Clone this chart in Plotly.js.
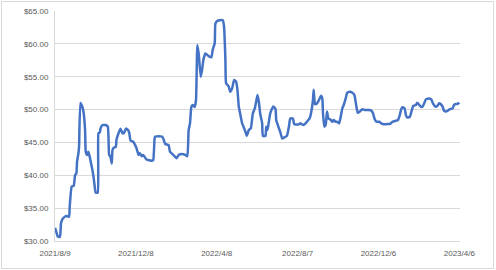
<!DOCTYPE html>
<html>
<head>
<meta charset="utf-8">
<script src="https://cdn.plot.ly/plotly-3.0.1.min.js"></script>
<style>
html,body{margin:0;padding:0;background:#fff;}
#chart{position:absolute;left:0;top:0;width:496px;height:270px;}
#frame{position:absolute;left:1px;top:1px;width:493px;height:268px;box-sizing:border-box;border:1px solid #d9d9d9;pointer-events:none;}
</style>
</head>
<body>
<div id="chart"></div>
<div id="frame"></div>
<script>
const dates = [
"2021-08-09","2021-08-11","2021-08-13","2021-08-16","2021-08-17","2021-08-18","2021-08-21","2021-08-26","2021-08-30","2021-08-31",
"2021-09-03","2021-09-06","2021-09-08","2021-09-10","2021-09-11","2021-09-13","2021-09-14","2021-09-16","2021-09-19","2021-09-21",
"2021-09-23","2021-09-24","2021-09-26","2021-09-28","2021-09-30","2021-10-02","2021-10-04","2021-10-06","2021-10-08","2021-10-09",
"2021-10-12","2021-10-13","2021-10-15","2021-10-16","2021-10-19","2021-10-24","2021-10-27","2021-10-28","2021-10-29","2021-10-31",
"2021-11-02","2021-11-03","2021-11-05","2021-11-08","2021-11-09","2021-11-12","2021-11-15","2021-11-18","2021-11-20","2021-11-23",
"2021-11-26","2021-11-28","2021-11-30","2021-12-04","2021-12-09","2021-12-12","2021-12-14","2021-12-17","2021-12-19","2021-12-24",
"2022-01-01","2022-01-03","2022-01-05","2022-01-06","2022-01-16","2022-01-18","2022-01-21","2022-01-26","2022-01-28","2022-02-02",
"2022-02-07","2022-02-10","2022-02-15","2022-02-20","2022-02-23","2022-02-25","2022-02-27","2022-03-01","2022-03-03","2022-03-06",
"2022-03-08","2022-03-10","2022-03-12","2022-03-15","2022-03-17","2022-03-19","2022-03-22","2022-03-25","2022-03-28","2022-03-31",
"2022-04-02","2022-04-05","2022-04-06","2022-04-09","2022-04-13","2022-04-17","2022-04-19","2022-04-21","2022-04-22","2022-04-26",
"2022-04-28","2022-05-01","2022-05-04","2022-05-07","2022-05-09","2022-05-11","2022-05-13","2022-05-16","2022-05-18","2022-05-21",
"2022-05-23","2022-05-26","2022-05-29","2022-06-01","2022-06-04","2022-06-06","2022-06-08","2022-06-10","2022-06-12","2022-06-15",
"2022-06-16","2022-06-20","2022-06-21","2022-06-23","2022-06-25","2022-06-27","2022-06-30","2022-07-02","2022-07-05","2022-07-06",
"2022-07-10","2022-07-12","2022-07-15","2022-07-18","2022-07-22","2022-07-25","2022-07-27","2022-07-31","2022-08-02","2022-08-09",
"2022-08-11","2022-08-16","2022-08-21","2022-08-25","2022-08-27","2022-08-30","2022-08-31","2022-09-02","2022-09-04","2022-09-08",
"2022-09-11","2022-09-13","2022-09-14","2022-09-16","2022-09-18","2022-09-20","2022-09-22","2022-09-25","2022-09-28","2022-09-30",
"2022-10-03","2022-10-05","2022-10-08","2022-10-10","2022-10-13","2022-10-15","2022-10-18","2022-10-20","2022-10-24","2022-10-28",
"2022-10-31","2022-11-03","2022-11-05","2022-11-08","2022-11-12","2022-11-15","2022-11-19","2022-11-22","2022-11-25","2022-11-28",
"2022-11-30","2022-12-03","2022-12-07","2022-12-10","2022-12-14","2022-12-19","2022-12-23","2022-12-27","2023-01-01","2023-01-04",
"2023-01-07","2023-01-09","2023-01-11","2023-01-14","2023-01-16","2023-01-18","2023-01-22","2023-01-25","2023-01-27","2023-01-31",
"2023-02-02","2023-02-05","2023-02-07","2023-02-10","2023-02-12","2023-02-15","2023-02-20","2023-02-23","2023-02-26","2023-03-01",
"2023-03-04","2023-03-07","2023-03-09","2023-03-12","2023-03-14","2023-03-17","2023-03-20","2023-03-23","2023-03-27","2023-03-29",
"2023-04-01","2023-04-03","2023-04-06"
];
const prices = [
32.0,31.4,30.7,30.6,31.0,32.7,33.45,33.8,33.7,35.2,
38.3,38.4,40.0,40.3,42.1,43.3,44.35,51.0,50.4,49.4,
46.9,43.6,43.1,43.6,42.8,41.8,40.8,39.5,37.8,37.35,
37.35,46.4,46.5,47.1,47.65,47.65,47.4,45.9,43.1,42.8,
41.8,43.85,44.2,44.35,45.4,46.4,47.1,46.4,46.4,47.1,
46.9,46.5,45.3,45.1,44.1,43.1,43.35,42.9,43.1,42.4,
42.2,42.3,45.6,45.9,45.9,45.6,44.75,44.6,43.6,43.1,
42.6,43.1,43.25,43.1,42.9,46.9,47.9,50.4,50.7,50.4,
51.45,59.8,58.5,55.0,56.0,57.55,58.55,58.3,58.05,57.95,
59.1,60.1,63.1,63.5,63.6,63.6,62.6,57.5,54.0,53.5,
52.7,53.2,54.5,54.25,53.0,50.45,49.4,47.9,47.4,46.6,
46.0,46.9,47.15,49.4,50.2,51.2,52.2,51.2,49.4,47.9,
46.0,46.0,47.4,46.9,48.15,49.4,50.2,50.45,50.05,48.4,
47.15,46.6,45.6,45.75,46.0,47.4,48.65,48.65,47.75,47.75,
47.9,47.65,48.15,48.65,49.4,51.45,53.0,50.85,50.85,51.45,
52.1,51.7,49.4,47.4,47.65,49.7,48.65,48.5,48.15,48.4,
48.15,48.15,47.9,48.65,50.2,50.7,51.7,52.5,52.7,52.55,
52.2,50.45,49.5,49.7,50.05,49.95,49.95,49.95,49.85,49.4,
48.65,48.15,48.15,47.9,47.75,47.8,47.8,48.15,48.3,48.4,
49.2,50.05,50.35,50.2,49.2,48.8,48.9,49.95,50.55,50.7,
51.05,50.7,50.45,50.45,50.85,51.55,51.7,51.55,50.85,50.45,
50.55,50.95,50.85,50.45,49.85,49.7,49.85,50.05,50.2,50.7,
50.85,50.85,51.05
];
const xTickVals = ["2021-08-09","2021-12-08","2022-04-08","2022-08-07","2022-12-06","2023-04-06"];
const xTickText = ["2021/8/9","2021/12/8","2022/4/8","2022/8/7","2022/12/6","2023/4/6"];
const yTickVals = [30,35,40,45,50,55,60,65];
const yTickText = ["$30.00","$35.00","$40.00","$45.00","$50.00","$55.00","$60.00","$65.00"];

const trace = {
  x: dates, y: prices, type: 'scatter', mode: 'lines',
  line: {color: '#4472C4', width: 2.5, shape: 'spline', smoothing: 0.4},
  hoverinfo: 'skip'
};
const layout = {
  width: 496, height: 270,
  margin: {l: 55, r: 36, t: 11, b: 29, pad: 0},
  paper_bgcolor: '#ffffff', plot_bgcolor: '#ffffff',
  showlegend: false,
  font: {family: 'Liberation Sans, Arial, sans-serif', size: 8, color: '#595959'},
  xaxis: {
    type: 'date', range: ['2021-08-09', '2023-04-07'],
    tickmode: 'array', tickvals: xTickVals, ticktext: xTickText,
    showgrid: false, zeroline: false,
    showline: true, linecolor: '#d9d9d9', linewidth: 1,
    ticks: '', ticklabelstandoff: 4,
    tickfont: {family: 'Liberation Sans, Arial, sans-serif', size: 8, color: '#595959'}
  },
  yaxis: {
    range: [30, 65], tickmode: 'array', tickvals: yTickVals, ticktext: yTickText,
    showgrid: true, gridcolor: '#d9d9d9', gridwidth: 1, zeroline: false,
    showline: true, linecolor: '#d9d9d9', linewidth: 1,
    ticks: '', ticklabelstandoff: 4,
    tickfont: {family: 'Liberation Sans, Arial, sans-serif', size: 8, color: '#595959'}
  }
};
Plotly.newPlot('chart', [trace], layout, {staticPlot: true, displayModeBar: false});
</script>
</body>
</html>
